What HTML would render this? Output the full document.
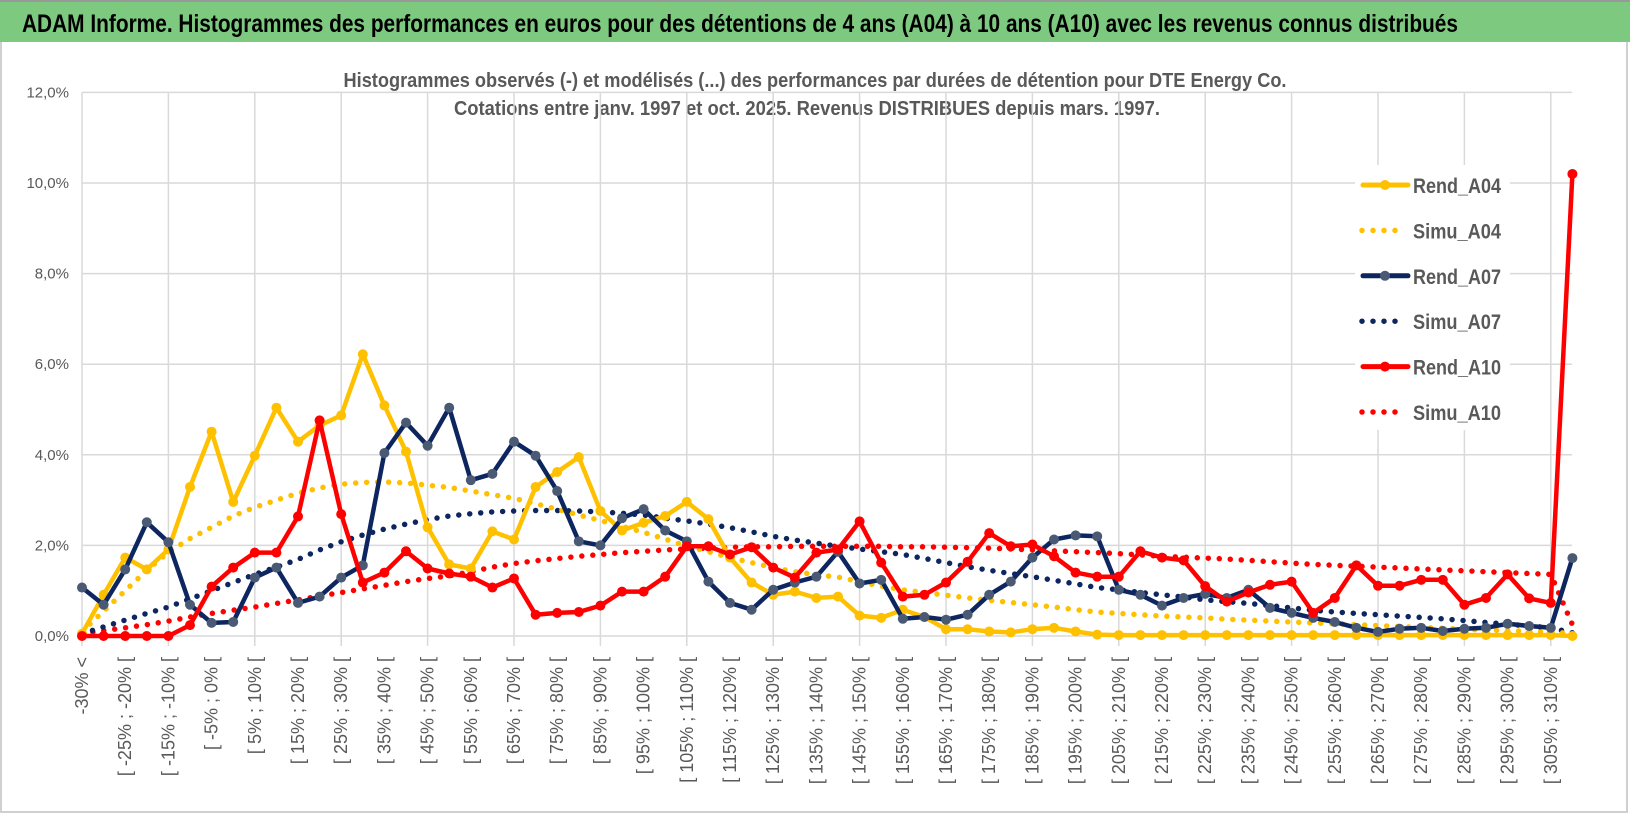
<!DOCTYPE html>
<html><head><meta charset="utf-8"><style>
body{margin:0;background:#fff;width:1630px;height:815px;overflow:hidden;font-family:"Liberation Sans",sans-serif;}
svg{display:block}
</style></head><body>
<svg id="chart" width="1630" height="815" xmlns="http://www.w3.org/2000/svg">
<rect x="0" y="0" width="1630" height="815" fill="#fff"/>
<rect x="1" y="1" width="1626" height="811" fill="none" stroke="#d0d0d0" stroke-width="2"/>
<rect x="0" y="0" width="1630" height="42" fill="#7dc97f"/>
<line x1="0" y1="1" x2="1630" y2="1" stroke="#999" stroke-width="2"/>
<text x="22" y="32" font-size="25" font-weight="bold" fill="#000" textLength="1436" lengthAdjust="spacingAndGlyphs">ADAM Informe. Histogrammes des performances en euros pour des détentions de 4 ans (A04) à 10 ans (A10) avec les revenus connus distribués</text>
<text x="815" y="87" text-anchor="middle" font-size="20" font-weight="bold" fill="#595959" textLength="943" lengthAdjust="spacingAndGlyphs">Histogrammes observés (-) et modélisés (...) des performances par durées de détention pour DTE Energy Co.</text>
<text x="807" y="115" text-anchor="middle" font-size="20" font-weight="bold" fill="#595959" textLength="706" lengthAdjust="spacingAndGlyphs">Cotations entre janv. 1997 et oct. 2025.  Revenus DISTRIBUES depuis mars. 1997.</text>
<g id="grid"></g><g id="yaxis"></g><g id="xaxis"></g><g id="series"></g><g id="legend"></g>
</svg>
<script>
const catStarts = [];
const yTicks = [0,2,4,6,8,10,12];
const rendA04 = [0.05,0.91,1.73,1.47,1.91,3.29,4.51,2.96,3.98,5.04,4.29,4.65,4.87,6.22,5.09,4.07,2.40,1.58,1.49,2.31,2.13,3.29,3.62,3.95,2.76,2.33,2.50,2.65,2.96,2.58,1.73,1.18,0.91,0.98,0.84,0.87,0.45,0.40,0.58,0.42,0.15,0.15,0.10,0.08,0.15,0.18,0.10,0.03,0.02,0.02,0.02,0.02,0.02,0.02,0.02,0.02,0.02,0.02,0.02,0.02,0.02,0.02,0.02,0.02,0.02,0.02,0.02,0.02,0.02,0.0];
const simuA04 = [0.1,0.55,1.0,1.45,1.85,2.15,2.4,2.65,2.84,3.0,3.15,3.27,3.35,3.39,3.4,3.38,3.33,3.28,3.2,3.12,3.04,2.92,2.8,2.67,2.55,2.42,2.29,2.14,1.98,1.86,1.73,1.62,1.51,1.42,1.35,1.3,1.2,1.1,1.02,0.96,0.9,0.84,0.79,0.74,0.69,0.64,0.58,0.53,0.5,0.47,0.44,0.42,0.4,0.37,0.35,0.33,0.31,0.29,0.27,0.25,0.23,0.21,0.19,0.17,0.15,0.13,0.12,0.1,0.08,0.06];
const rendA07 = [1.07,0.69,1.47,2.51,2.07,0.69,0.29,0.31,1.29,1.51,0.73,0.87,1.29,1.56,4.04,4.71,4.20,5.04,3.44,3.58,4.29,3.98,3.20,2.09,2.00,2.60,2.80,2.33,2.09,1.20,0.73,0.58,1.02,1.18,1.31,1.86,1.16,1.24,0.38,0.42,0.36,0.47,0.91,1.20,1.73,2.13,2.22,2.20,1.02,0.91,0.67,0.84,0.93,0.84,1.02,0.62,0.51,0.40,0.31,0.18,0.09,0.16,0.18,0.11,0.16,0.18,0.27,0.22,0.18,1.72];
const simuA07 = [0.05,0.2,0.35,0.5,0.64,0.82,1.0,1.18,1.36,1.52,1.69,1.9,2.08,2.23,2.36,2.47,2.57,2.65,2.7,2.74,2.76,2.77,2.77,2.76,2.74,2.71,2.67,2.6,2.54,2.47,2.39,2.3,2.2,2.12,2.05,1.98,1.92,1.86,1.8,1.71,1.62,1.53,1.45,1.38,1.31,1.23,1.15,1.07,1.02,0.96,0.91,0.86,0.8,0.76,0.72,0.67,0.62,0.57,0.53,0.5,0.47,0.44,0.41,0.38,0.34,0.3,0.26,0.22,0.18,0.07];
const rendA10 = [0,0,0,0,0,0.24,1.09,1.51,1.84,1.84,2.64,4.76,2.69,1.18,1.40,1.87,1.49,1.38,1.31,1.07,1.27,0.47,0.51,0.53,0.67,0.98,0.98,1.31,1.98,1.98,1.80,1.96,1.51,1.29,1.84,1.91,2.53,1.62,0.87,0.91,1.18,1.64,2.27,1.98,2.02,1.76,1.40,1.31,1.31,1.87,1.73,1.67,1.10,0.76,0.96,1.13,1.20,0.51,0.84,1.56,1.11,1.11,1.24,1.24,0.69,0.84,1.36,0.83,0.73,10.2];
const simuA10 = [0.05,0.12,0.18,0.25,0.33,0.42,0.5,0.57,0.64,0.72,0.8,0.88,0.96,1.04,1.12,1.2,1.27,1.33,1.42,1.52,1.6,1.66,1.71,1.76,1.8,1.84,1.87,1.9,1.92,1.94,1.96,1.97,1.97,1.98,1.98,1.98,1.98,1.98,1.97,1.97,1.96,1.95,1.94,1.92,1.9,1.88,1.86,1.84,1.82,1.79,1.76,1.74,1.72,1.7,1.67,1.64,1.61,1.58,1.56,1.54,1.52,1.5,1.48,1.46,1.44,1.42,1.4,1.38,1.36,0.25];
for (let k=0;k<70;k++) catStarts.push(k===0?null:-35+5*k);

const NS="http://www.w3.org/2000/svg";
const X0=82, DX=21.6, Y0=636, PY=45.3, XR=1572;
const xs=i=>X0+i*DX, ys=v=>Y0-v*PY;
function mk(tag,attrs,parent){const e=document.createElementNS(NS,tag);for(const k in attrs)e.setAttribute(k,attrs[k]);parent.appendChild(e);return e;}
const grid=document.getElementById('grid'), yaxis=document.getElementById('yaxis'), xaxis=document.getElementById('xaxis'), ser=document.getElementById('series'), leg=document.getElementById('legend');
yTicks.forEach(t=>{
  const l=mk('line',{x1:X0,x2:XR,y1:ys(t),y2:ys(t),stroke:'#d9d9d9','stroke-width':1.5},grid);
  
  
  const tx=mk('text',{x:69,y:ys(t)+5,'text-anchor':'end','font-size':15,fill:'#595959'},yaxis);
  tx.textContent=t.toFixed(1).replace('.',',')+'%';
  
  
});
for(let i=0;i<catStarts.length;i+=4){
  const l=mk('line',{x1:xs(i),x2:xs(i),y1:ys(12),y2:Y0+10,stroke:'#d9d9d9','stroke-width':1.5},grid);
  
  
}
for(let i=0;i<catStarts.length;i+=2){
  const s=catStarts[i];
  const lab = s===null ? '-30% <' : '[ '+s+'% ; '+(s+5)+'% [';
  const tx=mk('text',{x:0,y:0,'text-anchor':'end','font-size':18,fill:'#595959',transform:`translate(${xs(i)+6},657) rotate(-90)`},xaxis);
  tx.textContent=lab;
  
  
}
function pts(arr){return arr.map((v,i)=>xs(i).toFixed(1)+','+ys(v).toFixed(1)).join(' ');}
const series=[
 {name:'simu-a10',data:simuA10,color:'#ff0000',dot:true},
 {name:'simu-a07',data:simuA07,color:'#0d2660',dot:true},
 {name:'simu-a04',data:simuA04,color:'#ffc000',dot:true},
 {name:'rend-a04',data:rendA04,color:'#ffc000',mc:'#ffc000'},
 {name:'rend-a07',data:rendA07,color:'#0d2660',mc:'#4b5a74'},
 {name:'rend-a10',data:rendA10,color:'#ff0000',mc:'#ff0000'}
];
series.forEach(s=>{
  const g=mk('g',{},ser);
  
  
  if(s.dot){
    mk('polyline',{points:pts(s.data),fill:'none',stroke:s.color,'stroke-width':5.5,'stroke-linecap':'round','stroke-dasharray':'0 11'},g);
  } else {
    mk('polyline',{points:pts(s.data),fill:'none',stroke:s.color,'stroke-width':4.5,'stroke-linejoin':'round'},g);
    s.data.forEach((v,i)=>{
      const c=mk('circle',{cx:xs(i),cy:ys(v),r:5,fill:s.mc},g);
      
      
    });
  }
});
const legItems=[['Rend_A04','#ffc000',false,'#ffc000'],['Simu_A04','#ffc000',true],['Rend_A07','#0d2660',false,'#4b5a74'],['Simu_A07','#0d2660',true],['Rend_A10','#ff0000',false,'#ff0000'],['Simu_A10','#ff0000',true]];
mk('rect',{x:1355,y:165,width:155,height:265,fill:'#fff'},leg);
legItems.forEach((it,k)=>{
  const y=185+k*45.4;
  const g=mk('g',{},leg);
  
  
  if(it[2]) mk('line',{x1:1362,x2:1400,y1:y,y2:y,stroke:it[1],'stroke-width':5.5,'stroke-linecap':'round','stroke-dasharray':'0 11'},g);
  else { mk('line',{x1:1363,x2:1408,y1:y,y2:y,stroke:it[1],'stroke-width':5,'stroke-linecap':'round'},g); mk('circle',{cx:1385,cy:y,r:5,fill:it[3]},g); }
  const t=mk('text',{x:1413,y:y+8,'font-size':21,fill:'#595959','font-weight':'bold',textLength:88,lengthAdjust:'spacingAndGlyphs'},g);
  t.textContent=it[0];
});
</script>
</body></html>
